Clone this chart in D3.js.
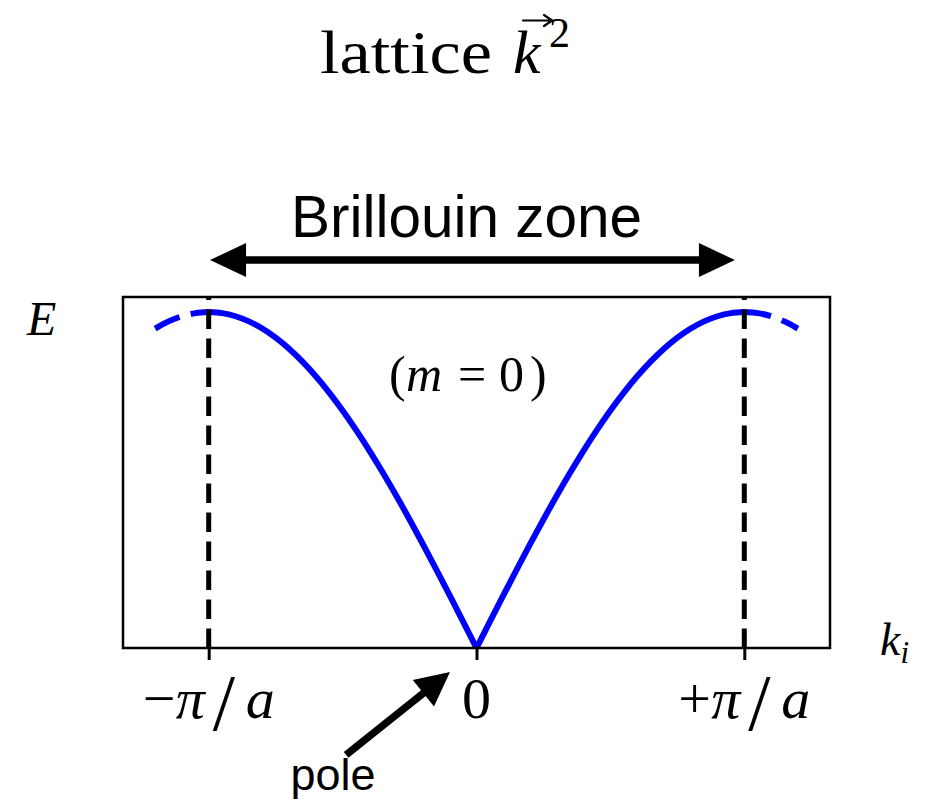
<!DOCTYPE html>
<html>
<head>
<meta charset="utf-8">
<script src="https://cdn.jsdelivr.net/npm/d3@7"></script>
<style>
  body { margin: 0; background: #fff; }
  text { fill: #000; }
</style>
</head>
<body>
<svg id="chart" width="927" height="800"></svg>
<script>
// Wave number k in units of pi/a
const kValues = [
  -1.20, -1.15, -1.10, -1.05, -1.00, -0.95, -0.90, -0.85, -0.80, -0.75,
  -0.70, -0.65, -0.60, -0.55, -0.50, -0.45, -0.40, -0.35, -0.30, -0.25,
  -0.20, -0.15, -0.10, -0.05, 0.00, 0.05, 0.10, 0.15, 0.20, 0.25,
  0.30, 0.35, 0.40, 0.45, 0.50, 0.55, 0.60, 0.65, 0.70, 0.75,
  0.80, 0.85, 0.90, 0.95, 1.00, 1.05, 1.10, 1.15, 1.20
];
// Energy E (arbitrary units), peaks at the zone edges
const energyValues = [
  0.9511, 0.9724, 0.9877, 0.9969, 1.0000, 0.9969, 0.9877, 0.9724, 0.9511, 0.9239,
  0.8910, 0.8526, 0.8090, 0.7604, 0.7071, 0.6494, 0.5878, 0.5225, 0.4540, 0.3827,
  0.3090, 0.2334, 0.1564, 0.0785, 0.0000, 0.0785, 0.1564, 0.2334, 0.3090, 0.3827,
  0.4540, 0.5225, 0.5878, 0.6494, 0.7071, 0.7604, 0.8090, 0.8526, 0.8910, 0.9239,
  0.9511, 0.9724, 0.9877, 0.9969, 1.0000, 0.9969, 0.9877, 0.9724, 0.9511
];
const tickValues = [-1, 0, 1];
const tickLabels = ["−π/a", "0", "+π/a"];
const zoneEdges = [-1, 1];

const SERIF = "'Liberation Serif', 'Times New Roman', serif";
const SANS = "'Liberation Sans', Arial, Helvetica, sans-serif";
const BLUE = "#0000ff";

const svg = d3.select("#chart");
svg.append("rect").attr("width", 927).attr("height", 800).attr("fill", "#fff");

const x = d3.scaleLinear().domain([-1.32, 1.32]).range([123, 830]);
const y = d3.scaleLinear().domain([0, 1.045]).range([648, 297]);

// ---- title ----
const title = svg.append("g").attr("font-family", SERIF);
title.append("text").attr("x", 320).attr("y", 73).attr("font-size", 62)
  .attr("textLength", 172).attr("lengthAdjust", "spacingAndGlyphs").text("lattice");
title.append("text").attr("x", 513).attr("y", 73).attr("font-size", 62)
  .attr("font-style", "italic").text("k");
title.append("text").attr("x", 549).attr("y", 47).attr("font-size", 42).text("2");
// vector arrow over k
title.append("path")
  .attr("d", "M523,20.5 L551,20.5 M544,15 L552,20.5 L544,26")
  .attr("fill", "none").attr("stroke", "#000").attr("stroke-width", 2.2)
  .attr("stroke-linecap", "round").attr("stroke-linejoin", "round");

// ---- data ----
const points = kValues.map((k, i) => ({ k, e: energyValues[i] }));
const line = d3.line().x(d => x(d.k)).y(d => y(d.e)).curve(d3.curveMonotoneX);

const outerLeft = points.filter(d => d.k <= -1);
const innerLeft = points.filter(d => d.k >= -1 && d.k <= 0);
const innerRight = points.filter(d => d.k >= 0 && d.k <= 1);
const outerRight = points.filter(d => d.k >= 1);

const curves = svg.append("g").attr("fill", "none").attr("stroke", BLUE)
  .attr("stroke-width", 6);
[innerLeft, innerRight].forEach(seg => {
  curves.append("path").attr("d", line(seg)).attr("stroke-linejoin", "round");
});
[outerLeft, outerRight].forEach(seg => {
  curves.append("path").attr("d", line(seg)).attr("stroke-dasharray", "27,11.5");
});

// zone-edge markers, dashes start at the bottom
zoneEdges.forEach(k => {
  svg.append("line")
    .attr("x1", x(k)).attr("x2", x(k))
    .attr("y1", y(0)).attr("y2", y(1.045))
    .attr("stroke", "#000").attr("stroke-width", 5)
    .attr("stroke-dasharray", "19.5,9.5");
});

// ---- frame and ticks ----
svg.append("rect")
  .attr("x", x(-1.32)).attr("y", y(1.045))
  .attr("width", x(1.32) - x(-1.32)).attr("height", y(0) - y(1.045))
  .attr("fill", "none").attr("stroke", "#000").attr("stroke-width", 2.5);

const axis = svg.append("g").attr("transform", `translate(0,${y(0)})`)
  .call(d3.axisBottom(x).tickValues(tickValues).tickSize(12).tickFormat(""));
axis.select(".domain").remove();
axis.selectAll(".tick line").attr("stroke", "#000").attr("stroke-width", 3);

// tick labels, math style: symbols italic, operators upright
const labelOffsets = { sign: -66, pi: -33, slash: 4, a: 37 };
tickValues.forEach((v, i) => {
  const lbl = tickLabels[i];
  const cx = x(v);
  const g = svg.append("g").attr("font-family", SERIF);
  if (lbl.length === 1) {
    g.append("text").attr("x", cx).attr("y", 718).attr("font-size", 58)
      .attr("text-anchor", "middle").text(lbl);
    return;
  }
  const chars = Array.from(lbl);
  g.append("text").attr("x", cx + labelOffsets.sign).attr("y", 718).attr("font-size", 58).text(chars[0]);
  g.append("text").attr("x", cx + labelOffsets.pi).attr("y", 718).attr("font-size", 58)
    .attr("font-style", "italic").text(chars[1]);
  g.append("text").attr("x", cx + labelOffsets.slash).attr("y", 730).attr("font-size", 80).text(chars[2]);
  g.append("text").attr("x", cx + labelOffsets.a).attr("y", 718).attr("font-size", 58)
    .attr("font-style", "italic").text(chars[3]);
});

// ---- axis names ----
svg.append("text").attr("x", 27).attr("y", 335).attr("font-family", SERIF)
  .attr("font-size", 48).attr("font-style", "italic").text("E");
const ki = svg.append("text").attr("x", 880).attr("y", 655).attr("font-family", SERIF)
  .attr("font-style", "italic");
ki.append("tspan").attr("font-size", 46).text("k");
ki.append("tspan").attr("font-size", 31).attr("dy", 8).text("i");

// ---- (m = 0) ----
const m0 = svg.append("text").attr("y", 391).attr("font-family", SERIF).attr("font-size", 50);
m0.append("tspan").attr("x", 389).text("(");
m0.append("tspan").attr("x", 406).attr("font-style", "italic").text("m");
m0.append("tspan").attr("x", 458).text("=");
m0.append("tspan").attr("x", 499).text("0");
m0.append("tspan").attr("x", 530).text(")");

// ---- arrows ----
function arrowHead(g, tipX, tipY, fromX, fromY, len, width) {
  const dx = tipX - fromX, dy = tipY - fromY;
  const L = Math.hypot(dx, dy);
  const ux = dx / L, uy = dy / L;
  const bx = tipX - ux * len, by = tipY - uy * len;
  const px = -uy * width / 2, py = ux * width / 2;
  g.append("path")
    .attr("d", `M${tipX},${tipY} L${bx + px},${by + py} L${bx - px},${by - py} Z`)
    .attr("fill", "#000");
  return [bx + ux * 2, by + uy * 2];
}

// Brillouin zone span
const zoneY = y(1.155);
const zx1 = x(-0.995), zx2 = x(0.965);
const za = svg.append("g");
za.append("line").attr("x1", zx1 + 30).attr("x2", zx2 - 30)
  .attr("y1", zoneY).attr("y2", zoneY)
  .attr("stroke", "#000").attr("stroke-width", 7.5);
arrowHead(za, zx1, zoneY, zx2, zoneY, 36, 34);
arrowHead(za, zx2, zoneY, zx1, zoneY, 36, 34);
svg.append("text").attr("x", 466.5).attr("y", 237)
  .attr("font-family", SANS).attr("font-size", 58.5).attr("text-anchor", "middle")
  .text("Brillouin zone");

// pole pointer
const pa = svg.append("g");
const tip = [x(-0.099), y(-0.0714)];
const tail = [x(-0.487), y(-0.318)];
const base = arrowHead(pa, tip[0], tip[1], tail[0], tail[1], 34, 34);
pa.append("line").attr("x1", tail[0]).attr("y1", tail[1])
  .attr("x2", base[0]).attr("y2", base[1])
  .attr("stroke", "#000").attr("stroke-width", 7.5);
svg.append("text").attr("x", 333).attr("y", 790)
  .attr("font-family", SANS).attr("font-size", 45).attr("text-anchor", "middle")
  .text("pole");
</script>
</body>
</html>
